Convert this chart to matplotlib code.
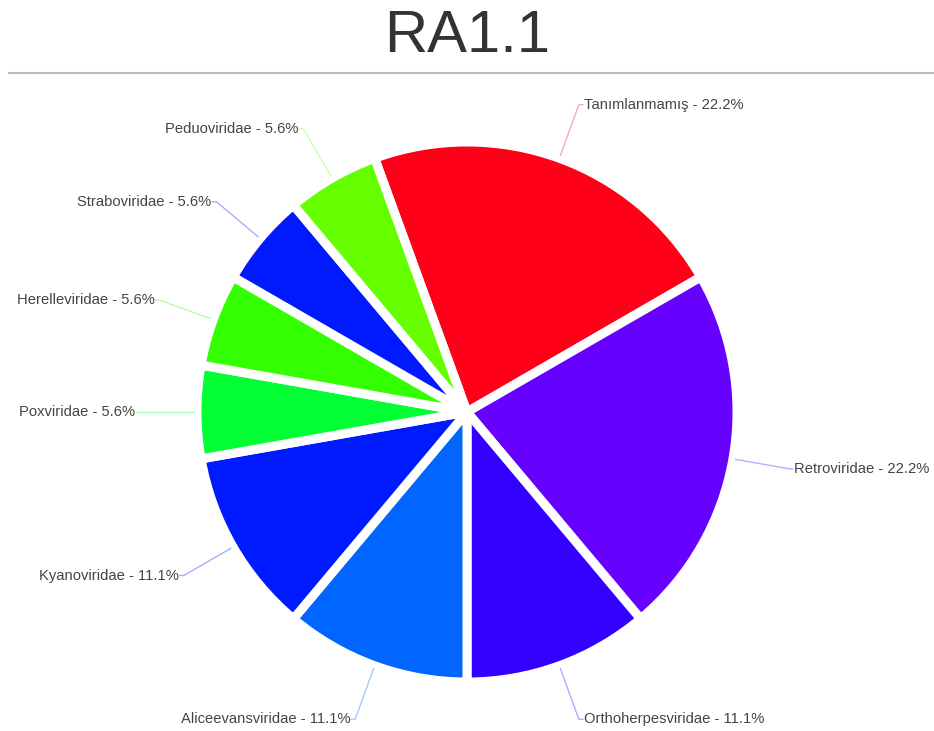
import matplotlib
matplotlib.use("Agg")

import numpy as np
import matplotlib.pyplot as plt

plt.rcParams['font.family'] = ['Liberation Sans', 'DejaVu Sans']

# data
labels = ["Tanımlanmamış", "Retroviridae", "Orthoherpesviridae", "Aliceevansviridae",
          "Kyanoviridae", "Poxviridae", "Herelleviridae", "Straboviridae", "Peduoviridae"]
counts = [4, 4, 2, 2, 2, 1, 1, 1, 1]
colors = ["#ff0019", "#6600ff", "#3300ff", "#0066ff", "#001aff",
          "#00ff33", "#33ff00", "#0019ff", "#66ff00"]

W, H = 934, 731
fig = plt.figure(figsize=(W / 100, H / 100), dpi=100)
ax = fig.add_axes([0, 0, 1, 1])
ax.axis('off')

# title and rule under it
fig.text(0.5, 1 - 52 / H, "RA1.1", ha='center', va='baseline', fontsize=43, color='#333333')
fig.add_artist(plt.Line2D([8 / W, 1], [1 - 73 / H, 1 - 73 / H], color='#bbbbbb', lw=1.5,
                          solid_capstyle='butt'))

cx, cy = 467, H - 412
R = 270
total = sum(counts)
wedges, _ = ax.pie(counts, colors=colors, startangle=110, counterclock=False,
                   radius=R, center=(cx, cy), explode=[0.035] * len(counts),
                   wedgeprops=dict(edgecolor='white', linewidth=6.5, joinstyle='bevel'))
# pie() resets the limits, so put them back
ax.set_xlim(0, W)
ax.set_ylim(0, H)
ax.set_aspect('equal')

for w, lab, c, n in zip(wedges, labels, colors, counts):
    mid = np.radians((w.theta1 + w.theta2) / 2)
    ca, sa = np.cos(mid), np.sin(mid)
    x0, y0 = cx + 273 * ca, cy + 273 * sa
    x1, y1 = cx + 327 * ca, cy + 327 * sa
    side = 1 if ca >= 0 else -1
    x2 = x1 + 4 * side
    ax.plot([x0, x1, x2], [y0, y1, y1], color=c, alpha=0.35, lw=1)
    pct = 100 * n / total
    ax.text(x2 + 1 * side, y1, f"{lab} - {pct:.1f}%", ha='left' if side > 0 else 'right',
            va='center', fontsize=10.6, color='#444444')

fig.savefig("out.png", dpi=100)
